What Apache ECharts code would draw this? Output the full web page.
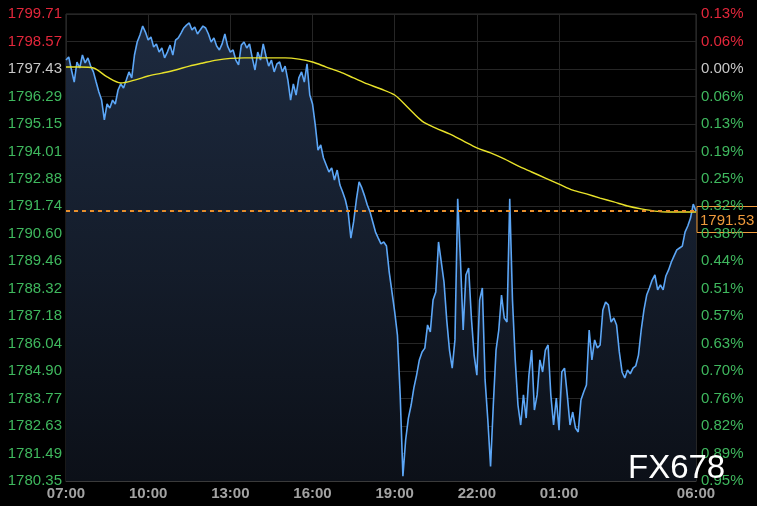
<!DOCTYPE html>
<html>
<head>
<meta charset="utf-8">
<script src="https://cdn.jsdelivr.net/npm/echarts@6/dist/echarts.min.js"></script>
<style>
html,body{margin:0;padding:0;background:#000;}
#c{width:757px;height:506px;}
</style>
</head>
<body>
<div id="c"></div>
<script>
// ---- data ----
const xTickMinutes = [0, 180, 360, 540, 720, 900, 1080, 1380];
const xTickLabels = ['07:00', '10:00', '13:00', '16:00', '19:00', '22:00', '01:00', '06:00'];
const yTickLabels = ['1780.35','1781.49','1782.63','1783.77','1784.90','1786.04','1787.18','1788.32','1789.46','1790.60','1791.74','1792.88','1794.01','1795.15','1796.29','1797.43','1798.57','1799.71'];
const basePrice = 1797.43;
const lastPrice = 1791.53;
const priceStepMin = 6;   // minutes between price samples, starting 07:00
const price = [
1797.80,1797.93,1797.39,1796.89,1797.72,1797.47,1798.01,1797.68,1797.89,1797.55,
1797.31,1796.89,1796.48,1796.14,1795.32,1795.98,1795.81,1796.14,1795.98,1796.56,
1796.81,1796.64,1796.97,1797.31,1797.06,1798.01,1798.55,1798.84,1799.21,1798.96,
1798.63,1798.76,1798.34,1798.47,1798.13,1798.30,1797.89,1798.13,1798.42,1798.01,
1798.63,1798.72,1798.92,1799.13,1799.25,1799.34,1799.05,1799.17,1798.88,1799.05,
1799.21,1799.13,1798.88,1798.55,1798.72,1798.38,1798.22,1798.47,1798.88,1798.38,
1798.13,1798.22,1797.80,1797.60,1798.42,1798.55,1798.30,1798.47,1797.89,1797.39,
1798.13,1797.80,1798.47,1797.97,1797.55,1797.80,1797.31,1797.64,1797.72,1797.31,
1797.55,1796.97,1796.14,1796.81,1796.35,1797.06,1797.31,1796.89,1797.64,1796.35,
1795.98,1795.11,1794.07,1794.28,1793.74,1793.45,1793.16,1793.33,1792.83,1793.24,
1792.62,1792.33,1792.00,1791.50,1790.42,1791.09,1792.00,1792.75,1792.50,1792.17,
1791.79,1791.50,1791.09,1790.67,1790.42,1790.18,1790.26,1790.09,1789.01,1788.19,
1787.36,1786.40,1783.92,1780.55,1782.05,1782.96,1783.50,1784.21,1784.74,1785.37,
1785.70,1785.86,1786.82,1786.53,1787.85,1788.19,1790.26,1789.43,1788.60,1787.02,
1785.78,1785.03,1786.20,1792.05,1789.51,1786.61,1788.89,1789.18,1787.11,1785.57,
1784.74,1787.85,1788.35,1784.54,1782.88,1780.95,1783.50,1785.78,1786.61,1788.06,
1787.11,1786.94,1792.05,1787.85,1785.37,1783.50,1782.67,1783.92,1782.96,1784.74,
1785.78,1783.29,1783.92,1785.37,1784.87,1785.78,1785.99,1783.92,1782.67,1783.79,
1782.46,1784.87,1785.03,1783.92,1782.67,1783.21,1782.55,1782.38,1783.71,1784.04,
1784.33,1786.61,1785.37,1786.20,1785.86,1785.99,1787.44,1787.77,1787.65,1786.94,
1787.11,1786.82,1785.70,1784.87,1784.62,1784.95,1784.79,1785.03,1785.12,1785.57,
1786.61,1787.44,1788.06,1788.35,1788.68,1788.89,1788.27,1788.48,1788.27,1788.85,
1789.10,1789.43,1789.68,1789.93,1790.01,1790.09,1790.67,1790.92,1791.25,1791.83,
1791.53
];
const maStepMin = 30;     // minutes between average samples
const avgLine = [
1797.51,1797.51,1797.47,1797.10,1796.85,1796.97,1797.14,1797.26,1797.39,1797.55,
1797.68,1797.80,1797.87,1797.89,1797.89,1797.89,1797.89,1797.84,1797.72,1797.51,
1797.31,1797.06,1796.81,1796.60,1796.35,1795.81,1795.27,1794.98,1794.74,1794.45,
1794.16,1793.95,1793.70,1793.41,1793.16,1792.91,1792.66,1792.41,1792.25,1792.08,
1791.92,1791.75,1791.63,1791.54,1791.50,1791.50,1791.50
];

// ---- chart ----
const RED = '#e3273b', GREEN = '#3fb85e', GRAY = '#c8c8c8', ORANGE = '#ee9a3c';
const yTicks = yTickLabels.map(Number);
const FONT = '"Liberation Sans", Arial, sans-serif';
function levelColor(v) {
  v = Number(v);
  if (v > basePrice + 0.001) return RED;
  if (v < basePrice - 0.001) return GREEN;
  return GRAY;
}
const chart = echarts.init(document.getElementById('c'));
chart.setOption({
  animation: false,
  backgroundColor: '#000',
  grid: { left: 66, right: 61, top: 14, bottom: 25, show: true, borderColor: '#333', borderWidth: 1 },
  xAxis: {
    type: 'value', min: 0, max: 1380,
    axisLine: { show: true, lineStyle: { color: '#3a3a3a' } },
    axisTick: { show: false, customValues: xTickMinutes },
    splitLine: { show: true, lineStyle: { color: '#262626', width: 1 } },
    axisLabel: {
      customValues: xTickMinutes,
      formatter: v => xTickLabels[xTickMinutes.indexOf(Number(v))] || '',
      color: '#a3a3a3', fontSize: 15, fontWeight: 'bold', fontFamily: FONT, margin: 5
    }
  },
  yAxis: [{
    type: 'value', min: 1780.35, max: 1799.71, position: 'left',
    axisLine: { show: false },
    axisTick: { show: false, customValues: yTicks },
    splitLine: { show: true, lineStyle: { color: '#262626', width: 1 } },
    axisLabel: {
      customValues: yTicks,
      formatter: v => Number(v).toFixed(2),
      color: levelColor, fontSize: 15, fontFamily: FONT, margin: 4
    }
  }, {
    type: 'value', min: 1780.35, max: 1799.71, position: 'right',
    axisLine: { show: false },
    axisTick: { show: false, customValues: yTicks },
    splitLine: { show: false },
    axisLabel: {
      customValues: yTicks,
      formatter: v => (Math.abs((Number(v) - basePrice) / basePrice * 100)).toFixed(2) + '%',
      color: levelColor, fontSize: 15, fontFamily: FONT, margin: 5
    }
  }],
  series: [{
    type: 'line',
    data: price.map((v, i) => [i * priceStepMin, v]),
    symbol: 'none',
    lineStyle: { color: '#5ca6f6', width: 1.6 },
    areaStyle: {
      origin: 'start', opacity: 1,
      color: new echarts.graphic.LinearGradient(0, 0, 0, 1, [
        { offset: 0, color: '#1d2a3f' },
        { offset: 1, color: '#0c1018' }
      ])
    },
    z: 2
  }, {
    type: 'line',
    data: avgLine.map((v, i) => [i * maStepMin, v]),
    symbol: 'none', smooth: 0.3,
    lineStyle: { color: '#e8e22a', width: 1.4 },
    z: 3
  }]
});
const py = Math.round(chart.convertToPixel({ yAxisIndex: 0 }, lastPrice));
const x0 = chart.convertToPixel({ xAxisIndex: 0 }, 0);
const x1 = chart.convertToPixel({ xAxisIndex: 0 }, 1380);
chart.setOption({
  graphic: [{
    type: 'line', z: 90, silent: true,
    shape: { x1: x0, y1: py, x2: x1, y2: py },
    style: { stroke: '#e8902e', lineWidth: 2, lineDash: [4, 4] }
  }, {
    type: 'group', x: 697, y: py - 4.5, z: 100,
    children: [{
      type: 'rect', shape: { x: 0, y: 0, width: 62, height: 26 },
      style: { fill: '#000', stroke: ORANGE, lineWidth: 1 }
    }, {
      type: 'text', x: 3, y: 14.5,
      style: { text: lastPrice.toFixed(2), fill: ORANGE, font: '15px ' + FONT, verticalAlign: 'middle' }
    }]
  }, {
    type: 'text', x: 628, y: 452, z: 100,
    style: { text: 'FX678', fill: '#ffffff', font: '33px ' + FONT }
  }]
});
</script>
</body>
</html>
